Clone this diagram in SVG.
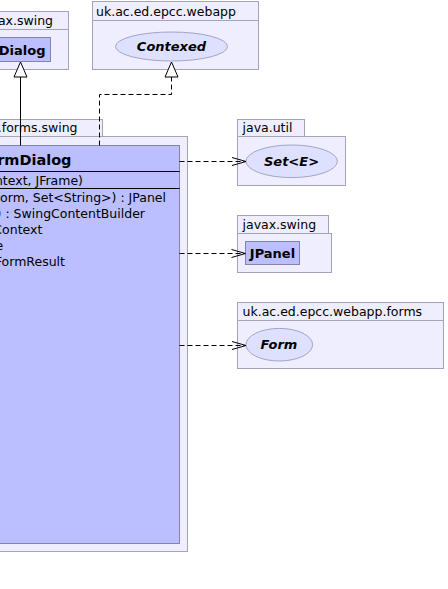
<svg xmlns="http://www.w3.org/2000/svg" width="448" height="589" viewBox="0 0 448 589">
<style>
.pkg{fill:#eeeeff;stroke:#a4a4b8;stroke-width:1}
.cls{fill:#bbbfff;stroke:#8484a8;stroke-width:1}
.ell{fill:#dde0ff;stroke:#a4a4c4;stroke-width:1}
.div{stroke:#000;stroke-width:1}
.lbl{font-family:"DejaVu Sans",sans-serif;font-size:12.5px;fill:#000}
.mem{font-family:"DejaVu Sans",sans-serif;font-size:12.5px;fill:#000;text-anchor:end}
.name{font-family:"DejaVu Sans",sans-serif;font-size:13px;font-weight:bold;fill:#000}
.title{font-size:14.5px}
.it{font-style:italic;text-anchor:middle}
.edge{fill:none;stroke:#000;stroke-width:1}
.dash{stroke-dasharray:5,3}
.tri{fill:#fff;stroke:#000;stroke-width:1}
</style>
<rect width="448" height="589" fill="#fff"/>

<g id="pkg-javax-swing-1">
<rect class="pkg" x="-10" y="11.5" width="78.5" height="18"/>
<rect class="pkg" x="-10" y="29.5" width="78.5" height="40"/>
<text class="lbl" x="53" y="24.5" text-anchor="end">vax.swing</text>
</g>
<g id="node-dialog">
<rect class="cls" x="-10" y="37.5" width="60.5" height="24"/>
<text class="name" x="45.5" y="54.5" text-anchor="end">Dialog</text>
</g>

<g id="pkg-webapp">
<rect class="pkg" x="92.5" y="1.5" width="166" height="19"/>
<rect class="pkg" x="92.5" y="20.5" width="166" height="49"/>
<text class="lbl" x="96" y="15.5">uk.ac.ed.epcc.webapp</text>
</g>
<g id="node-contexed">
<ellipse class="ell" cx="171.5" cy="46.5" rx="56" ry="14.5"/>
<text class="name it" x="171.5" y="51">Contexed</text>
</g>

<g id="pkg-forms-swing">
<rect class="pkg" x="-10" y="119.5" width="112.5" height="17"/>
<rect class="pkg" x="-10" y="136.5" width="197.5" height="415"/>
<text class="lbl" x="77.5" y="131.5" text-anchor="end">.forms.swing</text>
</g>
<g id="node-formdialog">
<rect class="cls" x="-10" y="145.5" width="189.5" height="398"/>
<line class="div" x1="-10" y1="171.5" x2="179.5" y2="171.5"/>
<line class="div" x1="-10" y1="188.5" x2="179.5" y2="188.5"/>
<text class="name title" x="71.5" y="165" text-anchor="end">rmDialog</text>
<text class="mem" x="83" y="184.5">ntext, JFrame)</text>
<text class="mem" x="166" y="201.5">orm, Set&lt;String&gt;) : JPanel</text>
<text class="mem" x="145" y="217.5">) : SwingContentBuilder</text>
<text class="mem" x="42.3" y="233.5">Context</text>
<text class="mem" x="3.3" y="250">e</text>
<text class="mem" x="65" y="266">FormResult</text>
</g>

<g id="pkg-java-util">
<rect class="pkg" x="237.5" y="119.5" width="67" height="17"/>
<rect class="pkg" x="237.5" y="136.5" width="108" height="49"/>
<text class="lbl" x="242.5" y="131.5">java.util</text>
</g>
<g id="node-set">
<ellipse class="ell" cx="291.7" cy="161.3" rx="45.7" ry="16.3"/>
<text class="name it" x="291.5" y="166">Set&lt;E&gt;</text>
</g>

<g id="pkg-javax-swing-2">
<rect class="pkg" x="237.5" y="215.5" width="91" height="18"/>
<rect class="pkg" x="237.5" y="233.5" width="94" height="39"/>
<text class="lbl" x="242.5" y="229">javax.swing</text>
</g>
<g id="node-jpanel">
<rect class="cls" x="245.5" y="241.5" width="54" height="23"/>
<text class="name" x="272.5" y="258" text-anchor="middle">JPanel</text>
</g>

<g id="pkg-webapp-forms">
<rect class="pkg" x="237.5" y="302.5" width="206" height="18"/>
<rect class="pkg" x="237.5" y="320.5" width="206" height="48"/>
<text class="lbl" x="242.5" y="315.5">uk.ac.ed.epcc.webapp.forms</text>
</g>
<g id="node-form">
<ellipse class="ell" cx="279.3" cy="344.7" rx="33.3" ry="16.3"/>
<text class="name it" x="279" y="349">Form</text>
</g>

<g id="connectors">
<line class="edge" x1="20.5" y1="145.5" x2="20.5" y2="77"/>
<polygon class="tri" points="20.5,62 14,77 27,77"/>
<path class="edge dash" d="M99.5,145.5 V94.5 H171.5 V77"/>
<polygon class="tri" points="171.5,62 165,77 178,77"/>
<line class="edge dash" x1="179.5" y1="161.5" x2="245" y2="161.5"/>
<polyline class="edge" points="232,157.5 246,161.5 232,165.5"/>
<line class="edge dash" x1="179.5" y1="253.5" x2="244.5" y2="253.5"/>
<polyline class="edge" points="231.5,249.5 245.5,253.5 231.5,257.5"/>
<line class="edge dash" x1="179.5" y1="345.5" x2="245" y2="345.5"/>
<polyline class="edge" points="232,341.5 246,345.5 232,349.5"/>
</g>
</svg>
